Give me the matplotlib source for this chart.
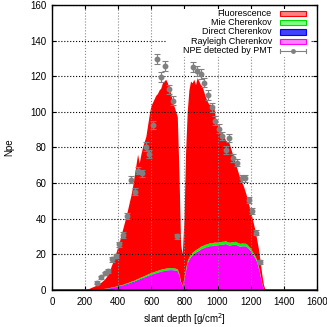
import numpy as np
import matplotlib
matplotlib.use('Agg')
import matplotlib.pyplot as plt
from matplotlib.patches import Rectangle

plt.rcParams['font.family'] = ['Liberation Sans', 'DejaVu Sans']

# simulated light components, slant depth grid 200..1300 every 10 g/cm2
depth = np.arange(200, 1301, 10)

total = [0, 0, 0.3, 0.8, 1.2, 1.6, 2, 2.5, 3, 3.6,
         4.2, 5, 5.8, 7, 8.5, 10.5, 13, 15.5, 18, 21,
         24, 27, 30.5, 34, 37.5, 41, 45, 49, 53, 58,
         64, 70, 76, 71, 76, 80, 83, 86, 92, 98,
         103, 105, 107, 109, 110, 112, 113, 116, 117, 118,
         116, 113, 110, 106, 103, 100, 97, 66, 25, 20,
         39, 77, 100, 112, 117, 116, 118, 115, 119, 117,
         115, 114, 111, 108, 106, 104, 104, 103, 103, 96,
         93, 91, 88, 86, 86, 84, 83, 83, 80, 77,
         74, 71, 68, 65, 62, 60, 58, 55, 52, 48,
         45, 41, 37, 33, 28, 23, 16, 9, 3, 0, 0]

rayleigh = [0, 0, 0, 0, 0, 0, 0, 0, 0, 0,
            0.3, 0.4, 0.5, 0.6, 0.7, 0.8, 1.0, 1.1, 1.3, 1.5,
            1.7, 1.9, 2.1, 2.3, 2.6, 2.9, 3.2, 3.5, 3.8, 4.1,
            4.4, 4.8, 5.2, 5.6, 6.0, 6.4, 6.8, 7.2, 7.6, 8.0,
            8.4, 8.7, 9.0, 9.3, 9.6, 9.9, 10.2, 10.4, 10.6, 10.8,
            11.0, 11.0, 11.1, 11.0, 11.0, 10.8, 10.5, 8, 4, 2,
            6, 11, 15, 17, 18.5, 19.5, 20.3, 21, 21.5, 22,
            22.8, 23.2, 23.5, 24, 24, 24.5, 24.6, 24.6, 25, 25,
            25, 25.2, 25.2, 25.5, 25.5, 25.8, 25.3, 25, 25, 25.2,
            25.3, 25.5, 25, 24.5, 24.3, 24.5, 24.5, 24.5, 24, 23,
            22, 20.5, 19, 17.5, 15.5, 12, 8, 3.5, 0.5, 0, 0]

direct = [0, 0, 0, 0, 0, 0, 0, 0, 0, 0,
          0.1, 0.1, 0.1, 0.15, 0.15, 0.2, 0.2, 0.2, 0.25, 0.25,
          0.3, 0.3, 0.3, 0.3, 0.35, 0.35, 0.35, 0.35, 0.4, 0.4,
          0.4, 0.4, 0.4, 0.4, 0.35, 0.35, 0.3, 0.3, 0.3, 0.25,
          0.25, 0.2, 0.2, 0.2, 0.2, 0.2, 0.2, 0.15, 0.15, 0.15,
          0.15, 0.15, 0.15, 0.15, 0.1, 0.1, 0.1, 0.1, 0.05, 0.05,
          0.05, 0.1, 0.1, 0.1, 0.1, 0.1, 0.1, 0.1, 0.1, 0.1,
          0.1, 0.1, 0.1, 0.1, 0.1, 0.1, 0.1, 0.1, 0.1, 0.1,
          0.1, 0.1, 0.1, 0.1, 0.1, 0.1, 0.1, 0.1, 0.1, 0.1,
          0.1, 0.1, 0.1, 0.1, 0.1, 0.1, 0.1, 0.1, 0.1, 0.1,
          0.1, 0.1, 0.1, 0.1, 0.1, 0.1, 0.05, 0.05, 0, 0, 0]

mie = [0, 0, 0, 0, 0, 0, 0, 0, 0, 0,
       0.05, 0.05, 0.1, 0.1, 0.1, 0.15, 0.15, 0.2, 0.2, 0.25,
       0.25, 0.3, 0.3, 0.35, 0.35, 0.4, 0.4, 0.45, 0.5, 0.5,
       0.55, 0.6, 0.6, 0.65, 0.7, 0.7, 0.75, 0.8, 0.8, 0.85,
       0.9, 0.9, 0.95, 1.0, 1.0, 1.0, 1.05, 1.1, 1.1, 1.1,
       1.1, 1.1, 1.1, 1.1, 1.0, 1.0, 1.0, 0.8, 0.4, 0.2,
       0.5, 0.9, 1.1, 1.2, 1.3, 1.3, 1.3, 1.3, 1.4, 1.4,
       1.4, 1.4, 1.4, 1.4, 1.5, 1.5, 1.5, 1.5, 1.5, 1.5,
       1.5, 1.5, 1.5, 1.5, 1.5, 1.5, 1.5, 1.5, 1.5, 1.5,
       1.5, 1.5, 1.5, 1.5, 1.5, 1.5, 1.4, 1.4, 1.4, 1.3,
       1.3, 1.2, 1.2, 1.1, 1.0, 0.8, 0.6, 0.3, 0.1, 0, 0]

fluo = np.maximum(np.array(total) - np.array(rayleigh) - np.array(direct) - np.array(mie), 0)

# measured NPE by PMT
pmt_x = [270, 296, 320, 340, 364, 386, 407, 431, 455, 477, 501, 521, 543,
         566, 588, 608, 632, 656, 680, 708, 733, 753,
         853, 877, 900, 920, 940, 964, 986, 1006, 1028, 1050, 1072, 1096,
         1119, 1145, 1165, 1189, 1209, 1232, 1254]
pmt_y = [4.1, 7.1, 9.4, 10.8, 17.2, 19.1, 25.8, 30.9, 41.5, 62, 55.2, 67, 65.5,
         80.5, 76.3, 92.6, 129.7, 119.4, 125.7, 112.7, 106.3, 30.1,
         125, 123.1, 121.3, 116.4, 109.5, 102.6, 95, 90.5, 86.5, 78.6, 85.3, 74,
         71.5, 62.7, 62.7, 50.5, 44.5, 32.2, 15.5]
pmt_err = [0.8, 0.9, 1.0, 1.0, 1.2, 1.2, 1.4, 1.5, 1.7, 2.0, 1.9, 2.1, 2.1,
           2.3, 2.2, 2.4, 2.8, 2.7, 2.8, 2.6, 2.6, 1.5,
           2.8, 2.8, 2.7, 2.7, 2.6, 2.5, 2.4, 2.4, 2.3, 2.2, 2.3, 2.2,
           2.1, 2.0, 2.0, 1.8, 1.7, 1.5, 1.1]

labels = ['Fluorescence', 'Mie Cherenkov', 'Direct Cherenkov',
          'Rayleigh Cherenkov', 'NPE detected by PMT']
key_fill = ['#ff8080', '#80ff80', '#4040ff', '#ff80ff']
key_edge = ['#ff0000', '#00dd00', '#0000ff', '#ff00ff']

fig = plt.figure(figsize=(3.27, 3.27), dpi=100)
ax = fig.add_axes([0.159, 0.113, 0.81, 0.872])

ax.stackplot(depth, rayleigh, direct, mie, fluo,
             colors=['#ff00ff', '#0000ff', '#00ff00', '#ff0000'], linewidth=0)
ax.plot([0, 1600], [0, 0], color='#800080', lw=1.2, zorder=3)
ax.errorbar(pmt_x, pmt_y, yerr=pmt_err, fmt='o', color='#808080', ms=3.2,
            elinewidth=0.8, capsize=2, capthick=0.8, zorder=4)

ax.set_xlim(0, 1600)
ax.set_ylim(0, 160)
ax.set_xticks(np.arange(0, 1601, 200))
ax.set_yticks(np.arange(0, 161, 20))
ax.tick_params(direction='in', top=True, right=True, labelsize=7, length=3)
ax.tick_params(axis='x', pad=5)
ax.tick_params(axis='y', pad=4)
ax.xaxis.grid(True, linestyle=':', color='#888888', lw=0.8)
ax.yaxis.grid(True, linestyle=':', color='black', lw=0.8)
for s in ax.spines.values():
    s.set_linewidth(1.0)
    s.set_zorder(8)

ax.set_xlabel('slant depth [g/cm$^2$]', fontsize=7, labelpad=3)
ax.set_ylabel('Npe', fontsize=7)
ax.yaxis.set_label_coords(-0.143, 0.5)

# key drawn by hand, gnuplot style: opaque box, text right aligned, sample right
ax.add_patch(Rectangle((0.434, 0.818), 0.545, 0.167, transform=ax.transAxes,
                       facecolor='white', edgecolor='none', zorder=5))
rows = [0.971, 0.938, 0.905, 0.873, 0.839]
for i, lab in enumerate(labels):
    ax.text(0.83, rows[i], lab, transform=ax.transAxes, ha='right', va='center',
            fontsize=6.5, zorder=6)
    if i < 4:
        ax.add_patch(Rectangle((0.862, rows[i] - 0.009), 0.096, 0.018,
                               transform=ax.transAxes, facecolor=key_fill[i],
                               edgecolor=key_edge[i], lw=0.8, zorder=6))
    else:
        ax.plot([0.862, 0.958], [rows[i], rows[i]], transform=ax.transAxes,
                color='#808080', lw=0.8, zorder=6)
        for xe in (0.862, 0.958):
            ax.plot([xe, xe], [rows[i] - 0.007, rows[i] + 0.007], transform=ax.transAxes,
                    color='#808080', lw=0.8, zorder=6)
        ax.plot([0.91], [rows[i]], 'o', transform=ax.transAxes, color='#808080',
                ms=2.5, zorder=6)

fig.savefig('out.png', dpi=100)
